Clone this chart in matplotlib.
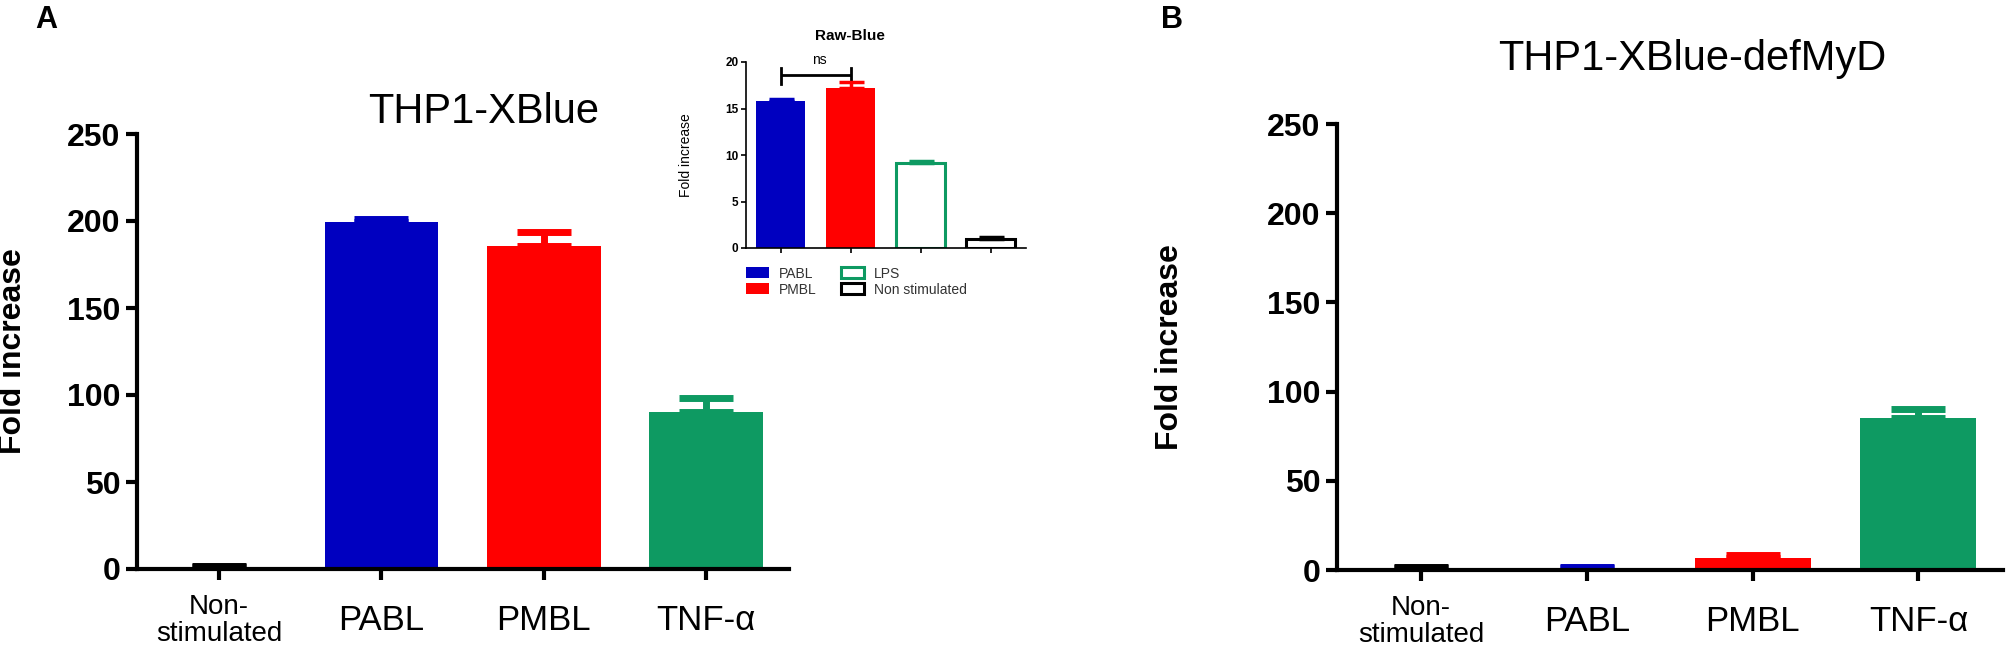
import matplotlib
matplotlib.use("Agg")
import matplotlib.pyplot as plt
from matplotlib import font_manager
import numpy as np

# pick a condensed face if one is installed
def pick_font(names):
    for n in names:
        try:
            font_manager.findfont(n, fallback_to_default=False)
            return n
        except Exception:
            pass
    return "DejaVu Sans"

NARROW = pick_font(["Liberation Sans Narrow", "Arial Narrow", "Liberation Sans"])
ARIAL = pick_font(["Liberation Sans", "Arial", "DejaVu Sans"])
plt.rcParams['font.family'] = [ARIAL, 'DejaVu Sans']

# data
categories = ["Non-\nstimulated", "PABL", "PMBL", "TNF-\u03b1"]
colors = ["#000000", "#0000C0", "#FF0000", "#0E9A62"]

thp1_mean = [1.0, 199.5, 185.5, 90.0]
thp1_err = [0.6, 1.8, 8.0, 8.5]

myd_mean = [1.0, 1.2, 6.6, 85.3]
myd_err = [0.6, 0.6, 1.7, 5.2]

raw_labels = ["PABL", "PMBL", "LPS", "Non stimulated"]
raw_mean = [15.8, 17.2, 9.1, 1.0]
raw_err = [0.25, 0.6, 0.25, 0.15]
raw_filled = [True, True, False, False]
raw_colors = ["#0000C0", "#FF0000", "#0E9A62", "#000000"]

W, H = 2008, 653
fig = plt.figure(figsize=(W / 100, H / 100), dpi=100)


def px_axes(left, top, right, bottom):
    return fig.add_axes([left / W, 1 - bottom / H, (right - left) / W, (bottom - top) / H])


def main_panel(ax, means, errs, title, title_x, title_y, ylab_x):
    x = np.arange(len(means))
    ax.bar(x, means, width=0.7, color=colors, edgecolor='none', zorder=2)
    for xi, m, e, c in zip(x, means, errs, colors):
        ax.errorbar(xi, m, yerr=[[0], [e]], fmt='none', ecolor=c,
                    elinewidth=5, capsize=19.5, capthick=5, zorder=1)
    ax.set_xlim(-0.506, 3.51)
    ax.set_ylim(0, 250)
    ax.set_yticks([0, 50, 100, 150, 200, 250])
    ax.set_xticks(x)
    ax.set_xticklabels(categories, family=[NARROW, 'DejaVu Sans'], va='center',
                       linespacing=1.05)
    for lab in ax.get_xticklabels():
        lab.set_fontsize(20 if lab.get_text().startswith("Non") else 25)
    for lab in ax.get_yticklabels():
        lab.set_family([NARROW, 'DejaVu Sans'])
        lab.set_fontweight('bold')
        lab.set_fontsize(23)
    for s in ['top', 'right']:
        ax.spines[s].set_visible(False)
    for s in ['left', 'bottom']:
        ax.spines[s].set_linewidth(3)
    ax.tick_params(axis='both', width=3, length=8, direction='out')
    ax.tick_params(axis='y', pad=4)
    ax.tick_params(axis='x', pad=29)
    ax.set_ylabel("Fold increase", fontsize=23, fontweight='bold')
    # x here is the right edge of the rotated label
    ax.yaxis.set_label_coords(ylab_x, 0.5)
    fig.text(title_x / W, 1 - title_y / H, title, fontsize=30,
             ha='center', va='baseline')


axA = px_axes(137, 134, 789, 569)
main_panel(axA, thp1_mean, thp1_err, "THP1-XBlue", 484, 123, -0.167)

axB = px_axes(1337, 124, 2003, 570)
main_panel(axB, myd_mean, myd_err, "THP1-XBlue-defMyD", 1692, 70, -0.228)

fig.text(35 / W, 1 - 28 / H, "A", fontsize=22, fontweight='bold', va='baseline')
fig.text(1161 / W, 1 - 28 / H, "B", fontsize=22, fontweight='bold', va='baseline')

# inset Raw-Blue
axI = px_axes(746, 62, 1026, 248)
xi = np.arange(len(raw_mean))
for i in range(len(raw_mean)):
    if raw_filled[i]:
        axI.bar(xi[i], raw_mean[i], width=0.7, color=raw_colors[i], edgecolor='none',
                label=raw_labels[i], zorder=2)
    else:
        axI.bar(xi[i], raw_mean[i], width=0.7, color='white', edgecolor=raw_colors[i],
                linewidth=2.2, label=raw_labels[i], zorder=2)
    axI.errorbar(xi[i], raw_mean[i], yerr=[[0], [raw_err[i]]], fmt='none',
                 ecolor=raw_colors[i], elinewidth=2.5, capsize=9, capthick=2.5, zorder=3)
axI.set_xlim(-0.5, 3.5)
axI.set_ylim(0, 20)
axI.set_yticks([0, 5, 10, 15, 20])
axI.set_xticks(xi)
axI.set_xticklabels([])
for s in ['top', 'right']:
    axI.spines[s].set_visible(False)
for s in ['left', 'bottom']:
    axI.spines[s].set_linewidth(1.2)
axI.tick_params(axis='both', width=1.2, length=3.5, labelsize=8.5, pad=2)
for lab in axI.get_yticklabels():
    lab.set_fontweight('bold')
axI.set_ylabel("Fold increase", fontsize=10)
axI.yaxis.set_label_coords(-0.19, 0.5)
axI.text(0.371, 1.14, "Raw-Blue", transform=axI.transAxes, ha='center', va='center',
         fontsize=11, fontweight='bold')

# ns bracket between PABL and PMBL
axI.plot([0, 1], [18.6, 18.6], color='black', lw=2, clip_on=False, solid_capstyle='butt')
for xb in [0, 1]:
    axI.plot([xb, xb], [17.6, 19.4], color='black', lw=2, clip_on=False)
axI.text(0.55, 20.2, "ns", ha='center', va='center', fontsize=10)

axI.legend(loc='upper left', bbox_to_anchor=(0.0, -0.1), ncol=2, frameon=False,
           fontsize=10, borderaxespad=0, borderpad=0, handlelength=1.65,
           handleheight=0.85, handletextpad=0.7, columnspacing=1.8,
           labelspacing=0.15, labelcolor='#333333')

fig.savefig("out.png", dpi=100)
